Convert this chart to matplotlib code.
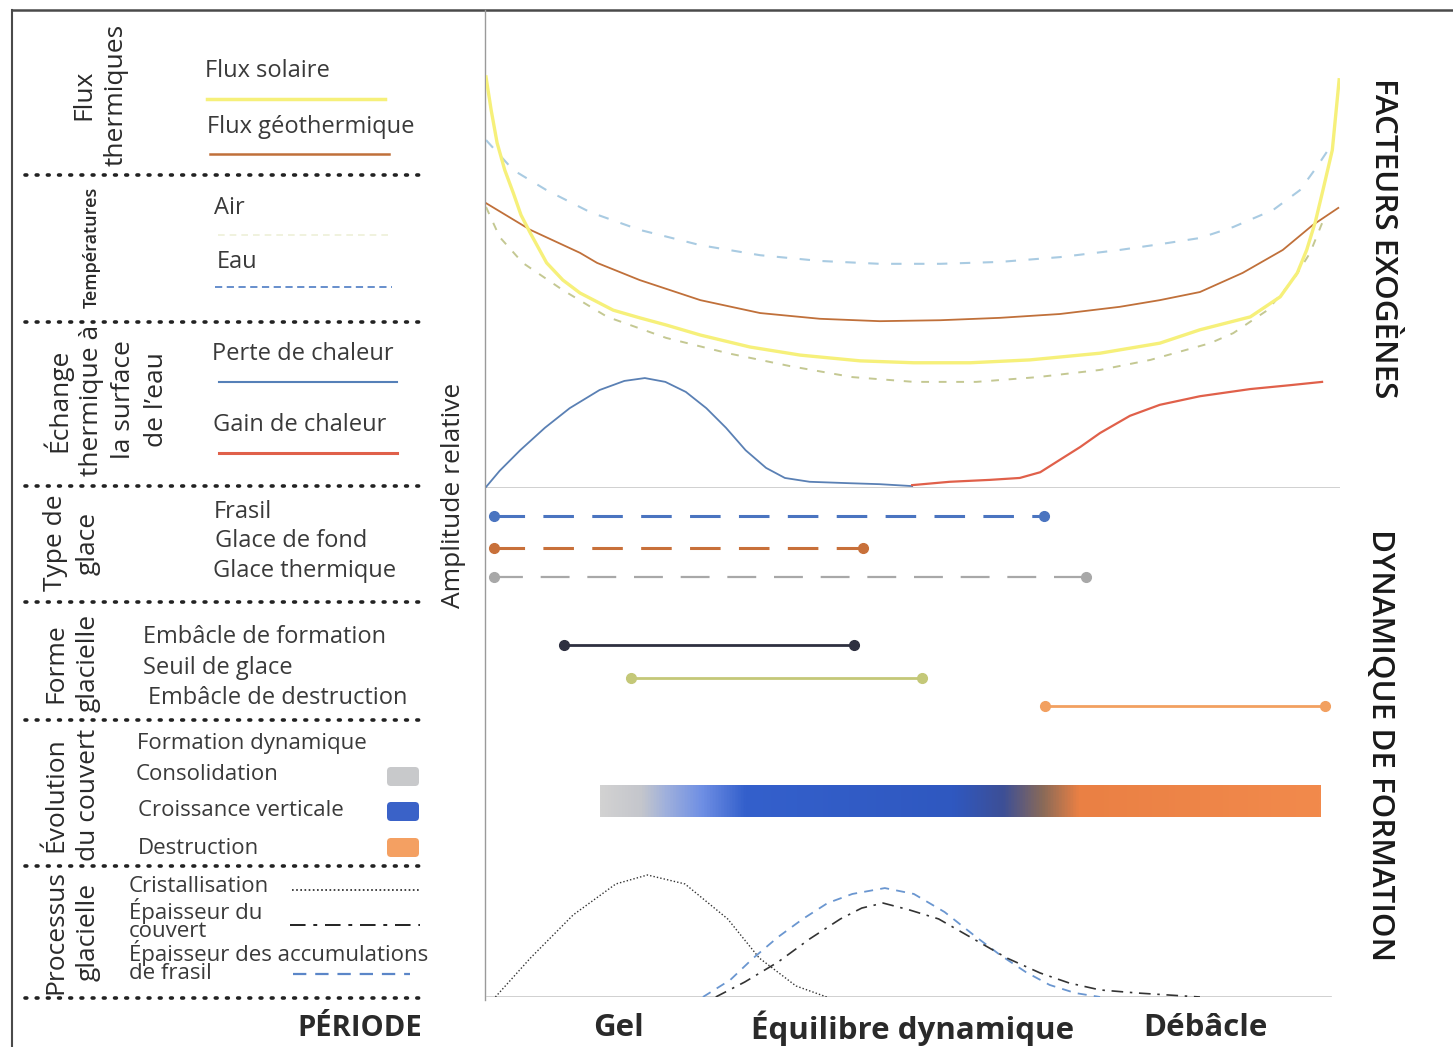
import matplotlib.pyplot as plt
from matplotlib.colors import LinearSegmentedColormap
from matplotlib.patches import FancyBboxPatch
import numpy as np

W, H = 1453, 1047
FONT = ["Open Sans", "DejaVu Sans"]
TXT = "#3a3a3a"

# ---------------- data (période 0-100, amplitude relative 0-100) ----------------
solaire_t = [0, 0.6, 1.3, 2.2, 3.2, 4.1, 5.2, 7.1, 9.0, 11.0, 14.9, 18.0, 21.1, 25.1, 30.9,
             36.8, 43.8, 50.1, 56.7, 63.7, 71.9, 78.9, 83.6, 89.5, 93.0, 95.0, 96.1, 97.1,
             98.0, 99.1, 99.9]
solaire_a = [86.0, 79.1, 72.2, 66.5, 61.7, 57.1, 53.3, 47.1, 43.5, 40.8, 37.2, 35.6, 34.1, 32.0,
             29.5, 27.8, 26.6, 26.2, 26.2, 26.8, 28.2, 30.3, 33.1, 35.8, 40.0, 45.0, 49.8, 55.6,
             62.3, 70.7, 85.4]

geo_t = [0, 5.2, 11.0, 13.0, 18.0, 25.1, 32.1, 39.1, 46.1, 53.2, 60.2, 67.2, 74.2, 78.9,
         83.6, 88.6, 93.3, 96.8, 99.8]
geo_a = [59.6, 54.0, 49.2, 47.1, 43.5, 39.3, 36.6, 35.4, 34.9, 35.1, 35.6, 36.4, 37.9, 39.3,
         41.0, 45.0, 49.8, 55.0, 58.6]

eau_t = [0, 3.2, 7.1, 12.2, 18.0, 25.1, 32.1, 39.1, 46.1, 53.2, 60.2, 67.2, 74.2, 78.9,
         83.6, 87.5, 92.2, 95.3, 97.3, 98.6]
eau_a = [72.8, 66.5, 62.3, 57.7, 54.0, 50.8, 48.7, 47.5, 46.9, 46.9, 47.3, 48.3, 49.8, 51.0,
         52.3, 54.6, 58.2, 62.3, 67.2, 70.7]

air_t = [0, 1.6, 4.3, 9.0, 14.2, 21.1, 28.3, 35.6, 42.9, 50.1, 57.4, 64.6, 71.9, 77.8,
         84.8, 87.5, 91.5, 94.5, 96.5, 97.9]
air_a = [58.8, 52.5, 47.1, 41.4, 35.8, 31.4, 28.2, 25.5, 23.2, 22.2, 22.2, 23.2, 24.7, 26.8,
         30.3, 32.4, 37.2, 43.5, 49.2, 55.4]

perte_t = [0, 1.6, 4.0, 6.9, 9.8, 13.3, 16.2, 18.6, 21.0, 23.4, 25.8, 28.1, 30.4, 32.8,
           35.0, 37.9, 42.6, 46.1, 49.9]
perte_a = [0.2, 3.6, 7.9, 12.6, 16.7, 20.5, 22.4, 23.0, 22.2, 20.1, 16.7, 12.6, 7.9, 4.2,
           2.1, 1.3, 1.0, 0.8, 0.4]

gain_t = [49.9, 54.3, 59.0, 62.5, 64.9, 67.2, 69.6, 71.9, 75.4, 78.9, 83.6, 89.5, 94.1, 97.9]
gain_a = [0.6, 1.3, 1.7, 2.1, 3.3, 5.9, 8.6, 11.5, 15.1, 17.4, 19.2, 20.7, 21.5, 22.2]

# périodes des types / formes de glace (début, fin)
glace_noms = ["Frasil", "Glace de fond", "Glace thermique",
              "Embâcle de formation", "Seuil de glace", "Embâcle de destruction"]
glace_debut = [0.9, 0.9, 0.9, 9.1, 17.0, 65.5]
glace_fin = [65.3, 44.1, 70.2, 43.1, 51.1, 98.2]

# évolution du couvert (gradient)
couvert_debut, couvert_fin = 13.4, 97.8
couvert_pos = [0.0, 0.056, 0.09, 0.14, 0.2, 0.49, 0.56, 0.615, 0.665, 1.0]
couvert_col = ["#d2d2d2", "#c4c6cc", "#9fb0dc", "#6f8fe4", "#3460cc", "#2f58c0",
               "#3d4f96", "#8a6a58", "#ea8044", "#f28a4c"]

# processus glaciels
crist_t = [1.1, 5.2, 10.2, 15.2, 18.9, 23.3, 28.3, 32.0, 36.3, 39.9]
crist_a = [0, 26.5, 55.8, 76.9, 83.0, 76.9, 53.1, 26.5, 7.5, 0]

frasil_t = [25.4, 28.6, 31.3, 34.2, 37.1, 40.0, 42.9, 46.7, 50.1, 53.7, 57.4, 60.2, 63.2,
            66.0, 69.0, 71.9]
frasil_a = [0, 11.6, 26.5, 40.8, 53.1, 63.9, 70.1, 74.1, 70.1, 57.8, 40.8, 28.6, 17.0,
            8.2, 2.7, 0]

couv_t = [26.9, 30.3, 34.2, 37.9, 41.5, 44.0, 46.5, 49.6, 53.0, 57.3, 61.0, 64.9, 68.3,
          71.9, 76.3, 83.6]
couv_a = [0, 10.2, 23.8, 39.5, 53.1, 60.5, 63.9, 59.2, 53.1, 38.8, 26.5, 16.3, 9.5, 4.8,
          2.7, 0]

periodes = ["Gel", "Équilibre dynamique", "Débâcle"]
periodes_t = [15.5, 50.0, 84.2]


def px_axes(x0, y0, x1, y1):
    return fig.add_axes([x0 / W, 1 - y1 / H, (x1 - x0) / W, (y1 - y0) / H])


fig = plt.figure(figsize=(W / 100, H / 100), dpi=100)

# ---------------- layout layer (pixel coordinates) ----------------
lay = px_axes(0, 0, W, H)
lay.set_xlim(0, W)
lay.set_ylim(H, 0)
lay.axis("off")

lay.plot([12, W], [10, 10], color="#4a4a4a", lw=1.8)
lay.plot([12, 12], [10, H], color="#4a4a4a", lw=1.5)
lay.plot([485, 485], [10, 1000], color="#9a9a9a", lw=1.0)

for y in [175, 322, 486, 602, 720, 866, 998]:
    lay.plot([25, 425], [y, y], color="#222222", lw=2.6, ls=(0, (0.5, 2.6)),
             dash_capstyle="round")


def t(x, y, s, size=17, **kw):
    kw.setdefault("color", TXT)
    kw.setdefault("va", "center")
    lay.text(x, y, s, fontsize=size, family=FONT, **kw)


def section(x, y, s, size=19):
    lay.text(x, y, s, fontsize=size, family=FONT, rotation=90, ha="center", va="center",
             color="#2a2a2a", linespacing=1.38, multialignment="center")


section(100, 95, "Flux\nthermiques")
lay.text(92, 247, "Températures", fontsize=13, family=FONT, rotation=90, ha="center",
         va="center", color="#2a2a2a", weight="semibold")
section(105, 400, "Échange\nthermique à\nla surface\nde l’eau")
section(72, 543, "Type de\nglace")
section(72, 663, "Forme\nglacielle")
section(72, 795, "Évolution\ndu couvert")
section(72, 932, "Processus\nglacielle")

t(205, 71, "Flux solaire")
lay.plot([207, 385], [99, 99], color="#f6f07a", lw=2.5)
t(207, 127, "Flux géothermique")
lay.plot([210, 389], [154, 154], color="#c0703a", lw=1.8)
t(214, 208, "Air")
lay.plot([218, 392], [235, 235], color="#eef0d8", lw=1.2, ls=(0, (4, 3)))
t(217, 262, "Eau")
lay.plot([215, 392], [287, 287], color="#5b86c8", lw=1.3, ls=(0, (4, 2.5)))
t(212, 354, "Perte de chaleur")
lay.plot([219, 397], [382, 382], color="#5580b8", lw=1.5)
t(213, 425, "Gain de chaleur")
lay.plot([219, 397], [453, 453], color="#e0604a", lw=2.2)
t(214, 512, "Frasil")
t(215, 541, "Glace de fond")
t(213, 571, "Glace thermique")
t(143, 637, "Embâcle de formation")
t(143, 668, "Seuil de glace")
t(148, 698, "Embâcle de destruction")
t(137, 743, "Formation dynamique", size=16)
t(136, 775, "Consolidation", size=16)
t(138, 811, "Croissance verticale", size=16)
t(138, 848, "Destruction", size=16)
for y, c in [(767, "#c8c9cb"), (802, "#3a62c8"), (838, "#f4a062")]:
    lay.add_patch(FancyBboxPatch((387, y), 32, 19, boxstyle="round,pad=0,rounding_size=4",
                                 fc=c, ec="none"))
t(129, 887, "Cristallisation", size=16)
lay.plot([292, 420], [890, 890], color="#222222", lw=1.2, ls=(0, (1, 1.5)))
t(129, 920, "Épaisseur du\ncouvert", size=16, linespacing=0.8)
lay.plot([290, 420], [925, 925], color="#222222", lw=1.4, ls=(0, (8, 4, 2, 4)))
t(129, 962, "Épaisseur des accumulations\nde frasil", size=16, linespacing=0.8)
lay.plot([293, 410], [974, 974], color="#5b86c8", lw=1.6, ls=(0, (6, 4)))

lay.text(422, 1028, "PÉRIODE", fontsize=21, family=FONT, weight="bold", ha="right",
         va="center", color="#2a2a2a")
lay.text(453, 495, "Amplitude relative", fontsize=19, family=FONT, rotation=90,
         ha="center", va="center", color="#2a2a2a")
lay.text(1383, 238, "FACTEURS EXOGÈNES", fontsize=22.5, family=FONT, rotation=270,
         ha="center", va="center", color="#1a1a1a", weight="semibold")
lay.text(1380, 745, "DYNAMIQUE DE FORMATION", fontsize=22.5, family=FONT, rotation=270,
         ha="center", va="center", color="#1a1a1a", weight="semibold")

# ---------------- facteurs exogènes ----------------
ax = px_axes(486, 10, 1340, 488)
ax.set_xlim(0, 100)
ax.set_ylim(0, 100)
ax.axis("off")
ax.axhline(0, color="#c8c8c8", lw=1.2)
ax.plot(eau_t, eau_a, color="#a9cbe2", lw=1.5, ls=(0, (5, 6)))
ax.plot(air_t, air_a, color="#c4c892", lw=1.4, ls=(0, (4, 5)))
ax.plot(geo_t, geo_a, color="#c0703a", lw=1.3)
ax.plot(solaire_t, solaire_a, color="#f6f07a", lw=2.4)
ax.plot(perte_t, perte_a, color="#5a80b4", lw=1.3)
ax.plot(gain_t, gain_a, color="#e0604a", lw=1.6)

# ---------------- types et formes de glace + couvert ----------------
am = px_axes(486, 498, 1340, 840)
am.set_xlim(0, 100)
am.set_ylim(840, 498)
am.axis("off")
rows_y = [516, 548, 577, 645, 678, 706]
styles = [
    dict(color="#4a74c0", lw=2.2, ls=(0, (10, 6))),
    dict(color="#c8703a", lw=2.2, ls=(0, (10, 6))),
    dict(color="#a8a8a8", lw=1.6, ls=(0, (13, 8))),
    dict(color="#2e3040", lw=2.0, ls="-"),
    dict(color="#c4c878", lw=2.0, ls="-"),
    dict(color="#f2a060", lw=2.0, ls="-"),
]
for d, f, y, st in zip(glace_debut, glace_fin, rows_y, styles):
    am.plot([d, f], [y, y], **st)
    am.plot([d, f], [y, y], ls="none", marker="o", ms=7, color=st["color"])

cmap = LinearSegmentedColormap.from_list("couvert", list(zip(couvert_pos, couvert_col)))
am.imshow(np.linspace(0, 1, 512)[None, :], cmap=cmap, aspect="auto",
          extent=[couvert_debut, couvert_fin, 817, 785], interpolation="bilinear")
am.set_xlim(0, 100)
am.set_ylim(840, 498)

# ---------------- processus glaciels ----------------
ab = px_axes(486, 850, 1340, 997)
ab.set_xlim(0, 100)
ab.set_ylim(0, 100)
ab.axis("off")
ab.axhline(0, xmax=0.99, color="#c8c8c8", lw=1.2)
ab.plot(crist_t, crist_a, color="#333333", lw=1.0, ls=(0, (1, 1.5)))
ab.plot(frasil_t, frasil_a, color="#6a96d0", lw=1.3, ls=(0, (5, 4)))
ab.plot(couv_t, couv_a, color="#333333", lw=1.2, ls=(0, (7, 4, 1.5, 4)))

for s, x in zip(periodes, periodes_t):
    ab.text(x, -21, s, transform=ab.transData, fontsize=22.5, family=FONT, weight="bold",
            ha="center", va="center", color="#2a2a2a", clip_on=False)
ab.set_ylim(0, 100)

fig.savefig("out.png", dpi=100)
